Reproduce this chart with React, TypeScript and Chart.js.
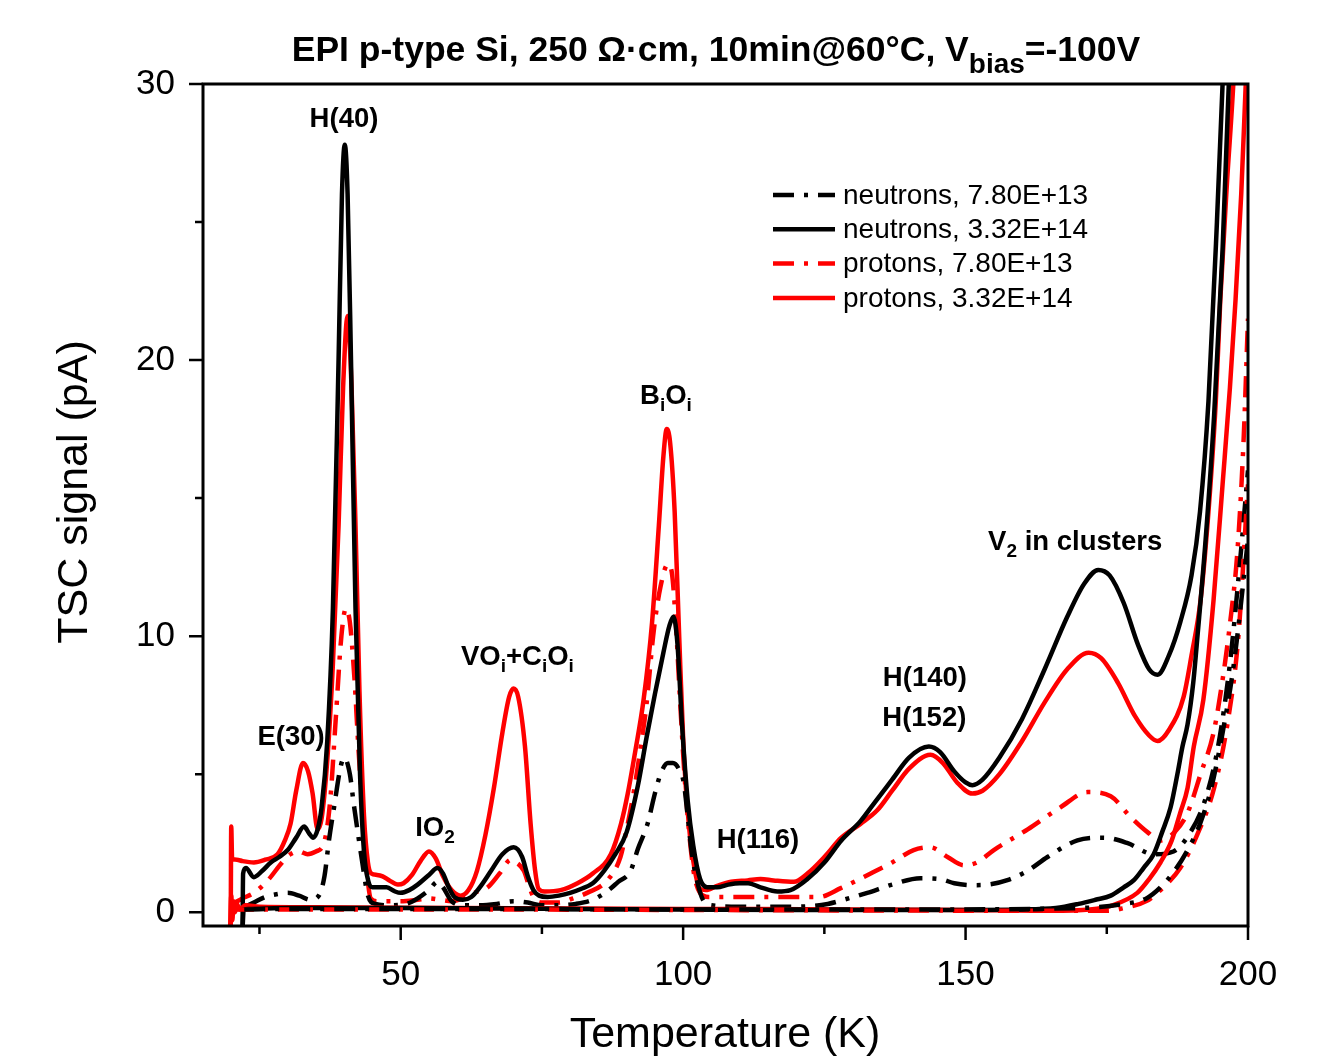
import React, { useEffect, useRef } from "react";
import { Chart, registerables } from "chart.js";

Chart.register(...registerables);

const FONT = '"Liberation Sans", Arial, Helvetica, sans-serif';

// ---- data: [temperature K, TSC signal pA] ----
const neutronsLow: [number, number][] = [
  [22.5, 0.2], [24, 0.35], [26, 0.55], [28, 0.65], [30, 0.7], [32, 0.6], [34, 0.45], [35.5, 0.6],
  [36.5, 1.3], [37.3, 2.6], [38.2, 3.8], [39.4, 5.3], [40, 5.6], [41, 5.0], [41.7, 3.9], [42.4, 2.9],
  [43.2, 1.8], [44.2, 0.6], [45.5, 0.3], [48, 0.25], [51, 0.3], [53, 0.5], [55, 0.8], [56.5, 1.1],
  [57.5, 0.9], [59, 0.4], [61, 0.25], [64, 0.25], [67, 0.3], [70, 0.4], [72.5, 0.35], [75, 0.25],
  [78, 0.25], [81, 0.3], [84, 0.45], [86.5, 0.75], [88.5, 1.1], [90.7, 1.5], [92, 2.3], [93.7, 3.2],
  [95, 4.3], [96, 5.0], [97.3, 5.4], [98.2, 5.4], [99.2, 5.2], [100.1, 4.7], [100.8, 3.5], [101.5, 2.2],
  [102.5, 1.1], [103.5, 0.45], [105, 0.25], [110, 0.2], [115, 0.2], [120, 0.2], [125.6, 0.3],
  [128.4, 0.45], [132.6, 0.7], [137, 1.0], [142, 1.23], [145.5, 1.2], [148, 1.05], [151.4, 0.98],
  [154, 1.0], [157.4, 1.16], [161, 1.5], [164.5, 2.0], [169.8, 2.6], [174.4, 2.7], [178.7, 2.5],
  [183.3, 2.1], [186.8, 2.2], [189.5, 2.8], [192.3, 4.0], [194.7, 6.0], [196.8, 9.0], [198.5, 12.5],
  [200, 16],
];
const neutronsLowBase: [number, number][] = [
  [22.3, 0.1], [30, 0.12], [60, 0.12], [100, 0.1], [140, 0.1], [170, 0.15], [178, 0.3], [182, 0.5],
  [184.5, 0.9], [187, 1.5], [189.3, 2.25], [191.5, 3.2], [193.5, 4.5], [195.5, 6.5], [197.5, 9.0],
  [200, 13.5],
];
const neutronsHigh: [number, number][] = [
  [22.0, -0.6], [22.1, 1.4], [22.6, 1.6], [24, 1.27], [25.5, 1.5], [27, 1.8], [28.5, 2.0], [30, 2.25],
  [31.5, 2.7], [32.9, 3.1], [33.8, 2.85], [34.5, 2.7], [35.3, 3.0], [36, 3.8], [37, 6.2], [38, 11],
  [39, 20], [39.6, 26], [40.1, 27.8], [40.6, 26], [41.2, 20], [42, 11], [42.8, 5], [43.5, 2.2],
  [44.3, 1.1], [45, 0.9], [46, 0.9], [47.5, 0.9], [49, 0.75], [50, 0.7], [51.5, 0.8], [53, 1.0],
  [55, 1.35], [56.5, 1.6], [57.5, 1.4], [58.5, 0.9], [59.5, 0.55], [61, 0.45], [62.5, 0.55],
  [64, 0.9], [66, 1.5], [68, 2.1], [70, 2.35], [71.5, 2.0], [72.5, 1.3], [73.5, 0.8], [74.5, 0.6],
  [76, 0.55], [78, 0.6], [80, 0.7], [82, 0.85], [84, 1.05], [86, 1.5], [88, 2.1], [90, 2.9],
  [92, 4.6], [93.5, 6.3], [95, 7.9], [96.5, 9.4], [97.6, 10.4], [98.3, 10.7], [99, 9.7], [99.8, 6.8],
  [100.8, 4.06], [101.8, 2.4], [103, 1.2], [104.3, 0.9], [106, 0.9], [108, 1.0], [110, 1.05],
  [111.5, 1.05], [113.7, 0.9], [116.7, 0.75], [119, 0.8], [122, 1.2], [125, 1.8], [128, 2.6],
  [131.4, 3.3], [134, 4.0], [137, 4.8], [140, 5.6], [143.5, 6.0], [145.5, 5.8], [148, 5.1], [150, 4.7],
  [151.2, 4.6], [153, 4.8], [156, 5.6], [160, 7.0], [164, 8.8], [168, 10.7], [171, 11.9], [173.5, 12.4],
  [175.5, 12.2], [178, 11.2], [180.5, 9.7], [182.5, 8.8], [184, 8.6], [186, 9.3], [188, 10.5],
  [190, 12.2], [191.5, 14.5], [193, 18.5], [194.5, 25], [195.5, 30], [196.5, 36],
];
const neutronsHighBase: [number, number][] = [
  [22.0, -0.6], [22.2, 0.1], [23, 0.12], [30, 0.15], [50, 0.15], [80, 0.12], [100, 0.1], [120, 0.08],
  [140, 0.08], [160, 0.1], [166, 0.15], [170, 0.3], [173, 0.45], [175.7, 0.6], [178, 0.9],
  [179.8, 1.16], [181.5, 1.6], [183.3, 2.1], [184.8, 2.9], [186.3, 3.8], [187.5, 5.0], [188.4, 6.0],
  [189.3, 6.8], [190.3, 8.3], [191.1, 10.1], [192.5, 13.5], [194, 18], [195.5, 24], [196.6, 30],
  [197.5, 36],
];
const protonsLow: [number, number][] = [
  [20.2, 0.3], [22, 0.5], [24, 0.7], [26.5, 1.16], [29, 1.8], [30.5, 2.1], [32, 2.2], [33.5, 2.1],
  [35, 2.2], [36.4, 2.5], [37.5, 4], [38.5, 7], [39.5, 10], [40.3, 11.0], [41, 10.5], [41.8, 8.5],
  [42.5, 6], [43.3, 3.5], [44, 1.5], [44.7, 0.5], [46, 0.4], [50, 0.4], [53, 0.45], [55, 0.5],
  [57, 0.45], [59, 0.4], [61, 0.5], [63, 0.7], [65.4, 0.9], [67.5, 1.4], [69.5, 1.9], [70.5, 1.8],
  [71.8, 1.5], [72.8, 0.9], [73.5, 0.55], [75, 0.35], [78, 0.35], [80.5, 0.5], [83, 0.7], [86.6, 1.16],
  [88.9, 2.0], [90, 3.0], [91.3, 4.4], [92.5, 6.0], [93.5, 7.5], [94.8, 10.2], [96, 11.8], [97.3, 12.6],
  [98, 12.3], [98.7, 10.5], [99.5, 7.5], [100.3, 4.8], [101.2, 2.6], [102, 1.3], [103, 0.7],
  [104.5, 0.55], [107, 0.55], [111, 0.55], [115, 0.55], [120, 0.55], [124, 0.55], [127.9, 0.87],
  [133.2, 1.4], [137, 1.8], [140.8, 2.25], [143.8, 2.35], [146.8, 2.0], [149.7, 1.7], [152, 1.8],
  [155, 2.25], [161, 3.0], [166.8, 3.8], [171.6, 4.35], [175.7, 4.2], [179.2, 3.45], [182.2, 2.9],
  [184.5, 2.6], [187, 2.9], [189.3, 3.6], [191.6, 5.0], [193.9, 6.5], [195.7, 8.7], [196.9, 10.6],
  [198.1, 13], [199.2, 17], [200, 21.5],
];
const protonsLowBase: [number, number][] = [
  [20.3, 0.1], [30, 0.1], [60, 0.1], [100, 0.08], [140, 0.06], [175, 0.05], [178, 0.15], [182, 0.4],
  [185, 0.9], [188, 1.6], [191, 2.8], [194, 4.5], [196.5, 7], [198.3, 10], [200, 15.5],
];
const protonsHigh: [number, number][] = [
  [19.9, -1], [20.0, 3.1], [20.15, 1.95], [21, 1.9], [22, 1.85], [24, 1.8], [26, 1.9], [28.2, 2.1],
  [29.5, 2.6], [30.5, 3.2], [31.5, 4.4], [32.7, 5.4], [33.6, 5.1], [34.4, 4.3], [35.3, 3.0], [36, 3.4],
  [37, 5.5], [38, 9], [39, 14], [39.8, 19], [40.6, 21.6], [41.3, 19], [42, 14], [42.7, 8], [43.5, 3.5],
  [44.2, 1.8], [44.8, 1.4], [45.8, 1.35], [46.8, 1.3], [48, 1.15], [49.5, 1.0], [50.5, 1.05],
  [52, 1.35], [53.5, 1.85], [55, 2.2], [56.2, 1.95], [57.5, 1.3], [59, 0.8], [60.6, 0.6], [62, 0.8],
  [63.5, 1.5], [65, 2.8], [66.5, 4.5], [68, 6.5], [69.2, 7.8], [70, 8.1], [70.8, 7.8], [72, 6.0],
  [73, 3.2], [73.8, 1.5], [74.4, 0.85], [75.5, 0.75], [78.3, 0.8], [81.3, 1.05], [84, 1.4],
  [87.2, 2.1], [89, 3.2], [90.2, 4.3], [91.5, 5.8], [93, 7.7], [94.5, 10.5], [95.7, 14], [96.5, 16.5],
  [97.1, 17.5], [97.7, 17.0], [98.5, 14.5], [99.3, 10], [100.1, 5.8], [101, 3.2], [102, 1.6],
  [103, 0.85], [104, 0.8], [106, 0.95], [108.5, 1.1], [111.4, 1.15], [113.7, 1.2], [116, 1.15],
  [119.6, 1.1], [122, 1.4], [125, 2.0], [128, 2.7], [131.4, 3.2], [134.4, 3.7], [137, 4.4], [140, 5.2],
  [143.8, 5.7], [146, 5.4], [148.5, 4.7], [151.2, 4.3], [153, 4.4], [156, 5.0], [160, 6.2], [164, 7.6],
  [168, 8.8], [171.8, 9.4], [174, 9.2], [177, 8.3], [180, 7.1], [182.5, 6.4], [184, 6.2], [186, 6.6],
  [188.6, 7.8], [190, 9.3], [191.6, 11.3], [193, 14.5], [194.3, 18.5], [195.1, 22.2], [196.3, 26.5],
  [197.4, 30], [198.5, 35],
];
const protonsHighBase: [number, number][] = [
  [19.8, -0.6], [20.0, 0.6], [20.2, -0.3], [20.4, 0.4], [20.7, 0.0], [21.0, 0.3], [21.5, 0.1],
  [22.5, 0.25], [25, 0.2], [35, 0.18], [60, 0.15], [100, 0.12], [130, 0.1], [150, 0.08], [165, 0.05],
  [172, 0.1], [176, 0.25], [180.4, 0.7], [182.5, 1.2], [184.5, 1.8], [186.5, 2.6], [188, 3.6],
  [189.3, 4.5], [190.4, 6.0], [192.1, 7.7], [193.9, 11.3], [195.5, 15.5], [196.8, 19], [197.8, 22.2],
  [198.8, 26], [199.6, 30], [200, 32],
];

const seriesLabels = [
  "neutrons, 7.80E+13",
  "neutrons, 3.32E+14",
  "protons, 7.80E+13",
  "protons, 3.32E+14",
];

const xTickValues = [50, 100, 150, 200];
const yTickValues = [0, 10, 20, 30];

type Seg = { t: string; sub?: boolean };
const annotations: { x: number; y: number; segs: Seg[] }[] = [
  { x: 39.96, y: 28.8, segs: [{ t: "H(40)" }] },
  { x: 30.58, y: 6.41, segs: [{ t: "E(30)" }] },
  { x: 56.07, y: 3.12, segs: [{ t: "IO" }, { t: "2", sub: true }] },
  {
    x: 70.67,
    y: 9.32,
    segs: [{ t: "VO" }, { t: "i", sub: true }, { t: "+C" }, { t: "i", sub: true }, { t: "O" }, { t: "i", sub: true }],
  },
  { x: 96.96, y: 18.77, segs: [{ t: "B" }, { t: "i", sub: true }, { t: "O" }, { t: "i", sub: true }] },
  { x: 113.25, y: 2.69, segs: [{ t: "H(116)" }] },
  { x: 142.8, y: 8.56, segs: [{ t: "H(140)" }] },
  { x: 142.7, y: 7.11, segs: [{ t: "H(152)" }] },
  { x: 169.4, y: 13.48, segs: [{ t: "V" }, { t: "2", sub: true }, { t: " in clusters" }] },
];

const titleSegs: Seg[] = [
  { t: "EPI p-type Si, 250 \u03A9\u00B7cm, 10min@60\u00B0C, V" },
  { t: "bias", sub: true },
  { t: "=-100V" },
];

const BLACK = "#000000";
const RED = "#ff0000";
const DASHDOT = [21, 10, 4, 10];

function toXY(a: [number, number][]) {
  return a.map(([x, y]) => ({ x, y }));
}

function drawRich(
  ctx: CanvasRenderingContext2D,
  segs: Seg[],
  cx: number,
  baseline: number,
  size: number,
  subSize: number,
  subDy: number,
  weight: string
) {
  let w = 0;
  const widths: number[] = [];
  for (const s of segs) {
    ctx.font = `${weight} ${s.sub ? subSize : size}px ${FONT}`;
    const mw = ctx.measureText(s.t).width;
    widths.push(mw);
    w += mw;
  }
  let x = cx - w / 2;
  ctx.textAlign = "left";
  ctx.textBaseline = "alphabetic";
  segs.forEach((s, i) => {
    ctx.font = `${weight} ${s.sub ? subSize : size}px ${FONT}`;
    ctx.fillText(s.t, x, s.sub ? baseline + subDy : baseline);
    x += widths[i];
  });
}

const decorPlugin = {
  id: "decor",
  afterDraw(chart: any) {
    const { ctx, chartArea } = chart;
    const xs = chart.scales.x;
    const ys = chart.scales.y;
    const { left, right, top, bottom } = chartArea;
    ctx.save();
    ctx.fillStyle = "#000";
    ctx.strokeStyle = "#000";

    // frame
    ctx.lineWidth = 3;
    ctx.strokeRect(left, top, right - left, bottom - top);

    // tick marks
    ctx.lineWidth = 2.5;
    ctx.beginPath();
    for (const t of xs.ticks) {
      const px = xs.getPixelForValue(t.value);
      const major = xTickValues.includes(t.value);
      ctx.moveTo(px, bottom);
      ctx.lineTo(px, bottom + (major ? 14 : 8));
    }
    for (const t of ys.ticks) {
      const py = ys.getPixelForValue(t.value);
      const major = yTickValues.includes(t.value);
      ctx.moveTo(left, py);
      ctx.lineTo(left - (major ? 14 : 8), py);
    }
    ctx.stroke();

    // axis titles
    ctx.font = `43px ${FONT}`;
    ctx.textAlign = "center";
    ctx.textBaseline = "middle";
    ctx.fillText("Temperature (K)", 725, 1035);
    ctx.save();
    ctx.translate(75, 492);
    ctx.rotate(-Math.PI / 2);
    ctx.fillText("TSC signal (pA)", 0, 0);
    ctx.restore();

    // title
    drawRich(ctx, titleSegs, 716, 61, 35.5, 28, 12, "bold");

    // annotations
    for (const a of annotations) {
      const px = xs.getPixelForValue(a.x);
      const py = ys.getPixelForValue(a.y);
      drawRich(ctx, a.segs, px, py + 10, 27.5, 19, 7, "bold");
    }

    // legend
    const lx = 773;
    const ly = 195;
    const dy = 34.3;
    const sets = chart.data.datasets.filter((d: any) => d.label);
    sets.forEach((d: any, i: number) => {
      const y = ly + i * dy;
      ctx.strokeStyle = d.borderColor;
      ctx.lineWidth = d.borderWidth;
      ctx.setLineDash(d.borderDash || []);
      ctx.beginPath();
      ctx.moveTo(lx, y);
      ctx.lineTo(lx + 62, y);
      ctx.stroke();
      ctx.setLineDash([]);
      ctx.fillStyle = "#000";
      ctx.font = `28px ${FONT}`;
      ctx.textAlign = "left";
      ctx.textBaseline = "middle";
      ctx.fillText(d.label, lx + 70, y + 1);
    });

    ctx.restore();
  },
};

export default function App() {
  const ref = useRef<HTMLCanvasElement | null>(null);

  useEffect(() => {
    document.body.style.margin = "0";
    const canvas = ref.current;
    if (!canvas) return;

    const mk = (label: string | undefined, data: [number, number][], color: string, dashed: boolean) => ({
      label,
      data: toXY(data),
      borderColor: color,
      backgroundColor: color,
      borderWidth: 4.5,
      borderDash: dashed ? DASHDOT : [],
      fill: false,
      pointRadius: 0,
      borderJoinStyle: "round",
      cubicInterpolationMode: "monotone",
    });

    const datasets: any[] = [
      mk(undefined, neutronsLowBase, BLACK, true),
      mk(undefined, protonsLowBase, RED, true),
      mk(undefined, neutronsHighBase, BLACK, false),
      mk(undefined, protonsHighBase, RED, false),
      mk(seriesLabels[0], neutronsLow, BLACK, true),
      mk(seriesLabels[1], neutronsHigh, BLACK, false),
      mk(seriesLabels[2], protonsLow, RED, true),
      mk(seriesLabels[3], protonsHigh, RED, false),
    ];

    const chart = new Chart(canvas, {
      type: "line",
      data: { datasets },
      options: {
        animation: false,
        responsive: false,
        devicePixelRatio: 1,
        parsing: false as any,
        layout: { padding: { top: 84, right: 76, left: 0, bottom: 0 } },
        plugins: { legend: { display: false }, tooltip: { enabled: false }, title: { display: false } },
        elements: { point: { radius: 0 } },
        scales: {
          x: {
            type: "linear",
            min: 15,
            max: 200,
            grid: { display: false, drawTicks: false },
            border: { display: false },
            ticks: {
              stepSize: 25,
              includeBounds: false,
              autoSkip: false,
              maxRotation: 0,
              padding: 28,
              color: "#000",
              font: { family: FONT, size: 35 },
              callback: (v: any) => (xTickValues.includes(Number(v)) ? String(v) : ""),
            },
            afterFit: (s: any) => {
              s.height = 137;
            },
          },
          y: {
            type: "linear",
            min: -0.5,
            max: 30,
            grid: { display: false, drawTicks: false },
            border: { display: false },
            ticks: {
              stepSize: 5,
              includeBounds: false,
              autoSkip: false,
              padding: 28,
              color: "#000",
              font: { family: FONT, size: 35 },
              callback: (v: any) => (yTickValues.includes(Number(v)) ? String(v) : ""),
            },
            afterFit: (s: any) => {
              s.width = 203;
            },
          },
        },
      } as any,
      plugins: [decorPlugin as any],
    });
    return () => chart.destroy();
  }, []);

  return (
    <div style={{ width: 1324, height: 1063, background: "#fff" }}>
      <canvas ref={ref} width={1324} height={1063} style={{ display: "block" }} />
    </div>
  );
}
